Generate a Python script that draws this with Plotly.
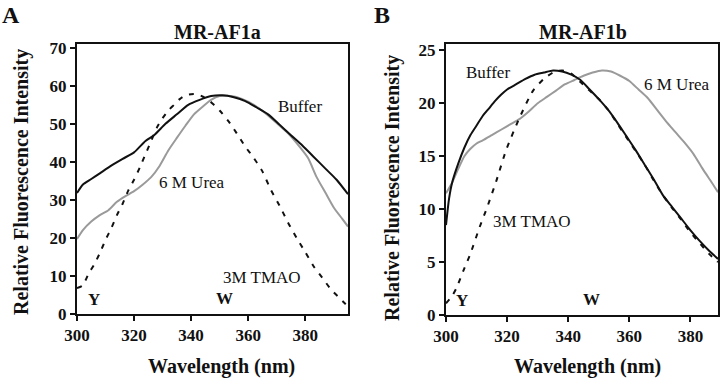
import plotly.graph_objects as go

# ---------------- Panel A: MR-AF1a ----------------
a_buf_x = [300, 302, 305, 308, 312, 316, 320, 324, 327, 331, 335, 339, 343, 347, 351, 355, 359, 363, 367, 371, 375, 379, 383, 387, 391, 395]
a_buf_y = [31.8, 34, 35.5, 37, 39, 40.8, 42.5, 45.5, 47, 50, 52.5, 55, 56.3, 57.3, 57.5, 57, 56, 54.3, 52.5, 49.8, 47, 44.3, 41.3, 38.3, 35.3, 31.5]

a_urea_x = [300, 302, 305, 308, 311, 314, 317, 320, 323, 326, 329, 332, 335, 338, 341, 344, 347, 350, 354, 358, 362, 366, 370, 374, 378, 381, 384, 387, 390, 393, 395]
a_urea_y = [19.7, 22, 24.3, 26, 27.3, 29.5, 31, 32.3, 34, 36, 39, 43, 46.3, 49.5, 52.5, 54.5, 56.3, 57.3, 57.3, 56.5, 55, 52.8, 50.2, 47.5, 44, 41, 36, 32, 28, 25, 23]

a_tmao_x = [300, 302, 304, 306, 308, 310, 312, 314, 316, 318, 320, 322, 324, 326, 328, 330, 332, 334, 336, 338, 340, 342, 344, 346, 348, 350, 353, 356, 359, 362, 365, 368, 371, 374, 377, 380, 383, 386, 389, 392, 395]
a_tmao_y = [6.8, 7.5, 10.5, 13, 16, 19.5, 22.5, 26, 29, 32.5, 35.3, 38.5, 42, 45.5, 49, 51.5, 53.5, 55, 56.5, 57.5, 57.8, 57.8, 57.2, 56.3, 55, 53.5, 50.8, 47.5, 44, 41, 37.5, 32.6, 28.5, 24, 20, 16.3, 12.5, 9.5, 6.5, 4.2, 2]

# ---------------- Panel B: MR-AF1b ----------------
b_buf_x = [300, 301, 302, 304, 306, 308, 310, 312, 314, 316, 318, 320, 323, 326, 329, 332, 335, 338, 341, 344, 347, 350, 353, 356, 359, 362, 365, 368, 371, 374, 377, 380, 383, 386, 389]
b_buf_y = [8.5, 11, 12.5, 14.3, 15.8, 17, 17.9, 18.8, 19.5, 20.2, 20.8, 21.3, 21.8, 22.3, 22.7, 22.9, 23.1, 23, 22.7, 22.2, 21.3, 20.4, 19.4, 18.2, 16.9, 15.6, 14.2, 12.8, 11.3, 10.2, 9.1, 8, 7, 6.1, 5.3]

b_urea_x = [300, 302, 304, 306, 308, 310, 312, 315, 318, 321, 324, 327, 330, 333, 336, 339, 342, 345, 348, 351, 354, 357, 360, 363, 366, 369, 372, 375, 378, 381, 384, 387, 389]
b_urea_y = [11.5, 12.5, 13.8, 15, 15.7, 16.2, 16.5, 17, 17.5, 18, 18.5, 19.2, 20, 20.6, 21.2, 21.8, 22.2, 22.6, 22.9, 23.1, 23, 22.6, 22.1, 21.3, 20.5, 19.4, 18.3, 17.3, 16.3, 15.2, 13.8, 12.5, 11.6]

b_tmao_x = [300, 302, 303.5, 305.7, 308, 311, 313.5, 316.5, 319.7, 324, 328.5, 332, 335, 338, 341, 344, 347, 350, 353, 356, 359, 362, 365, 368, 371, 374, 377, 380, 383, 386, 389]
b_tmao_y = [1.1, 1.8, 2.6, 4.2, 5.8, 8.3, 10.2, 12.7, 15.6, 18.6, 21.2, 22.3, 22.9, 23.1, 22.8, 22, 21.2, 20.4, 19.4, 18.1, 16.8, 15.5, 14.2, 12.7, 11.3, 10.1, 9, 7.8, 6.8, 5.8, 5]

x_ticks = [300, 320, 340, 360, 380]
a_y_ticks = [0, 10, 20, 30, 40, 50, 60, 70]
b_y_ticks = [0, 5, 10, 15, 20, 25]

SERIF = "Liberation Serif"
W, H = 720, 378

fig = go.Figure()

def add(x, y, color, dash, xa, ya, width=2):
    fig.add_trace(go.Scatter(x=x, y=y, mode="lines", xaxis=xa, yaxis=ya,
                             line=dict(color=color, width=width, dash=dash, shape="spline", smoothing=0.6),
                             showlegend=False, hoverinfo="skip"))

GRAY = "#9a9a9a"
DASH = "5px,7px"
add(a_urea_x, a_urea_y, GRAY, "solid", "x", "y")
add(a_buf_x, a_buf_y, "#111111", "solid", "x", "y")
add(a_tmao_x, a_tmao_y, "#111111", DASH, "x", "y")
add(b_urea_x, b_urea_y, GRAY, "solid", "x2", "y2")
add(b_buf_x, b_buf_y, "#111111", "solid", "x2", "y2")
add(b_tmao_x, b_tmao_y, "#111111", DASH, "x2", "y2")

tickfont = dict(family=SERIF, size=17, color="#111111", weight="bold")
axcommon = dict(showgrid=False, zeroline=False, showline=True, linecolor="#111111", linewidth=2,
                mirror=True, ticks="outside", ticklen=5, tickwidth=2, tickcolor="#111111",
                tickfont=tickfont, automargin=False)

fig.update_layout(
    template="none",
    width=W, height=H, margin=dict(l=0, r=0, t=0, b=0, pad=0),
    paper_bgcolor="white", plot_bgcolor="white",
    xaxis=dict(domain=[77 / W, 348 / W], range=[300, 395], tickvals=x_ticks, anchor="y", **axcommon),
    yaxis=dict(domain=[1 - 314 / H, 1 - 44 / H], range=[0, 71], tickvals=a_y_ticks, anchor="x", **axcommon),
    xaxis2=dict(domain=[446 / W, 718 / W], range=[300, 389], tickvals=x_ticks, anchor="y2", **axcommon),
    yaxis2=dict(domain=[1 - 315 / H, 1 - 44 / H], range=[0, 25.6], tickvals=b_y_ticks, anchor="x2", **axcommon),
)

def pa(text, x, y, size=20, bold=True, angle=0):
    fig.add_annotation(text=text, x=x / W, y=1 - y / H, xref="paper", yref="paper",
                       showarrow=False, textangle=angle, xanchor="center", yanchor="middle",
                       font=dict(family=SERIF, size=size, color="#111111", weight="bold" if bold else "normal"))

def da(text, x, y, xr, yr, size=17, bold=False):
    fig.add_annotation(text=text, x=x, y=y, xref=xr, yref=yr, showarrow=False,
                       xanchor="center", yanchor="middle",
                       font=dict(family=SERIF, size=size, color="#111111", weight="bold" if bold else "normal"))

# Panel letters and titles
pa("A", 11, 15, size=24)
pa("B", 382, 15, size=24)
pa("MR-AF1a", 217, 32, size=20)
pa("MR-AF1b", 583, 32, size=20)
# Axis titles
pa("Relative Fluorescence Intensity", 22, 182, size=20, angle=-90)
pa("Relative Fluorescence Intensity", 392, 188, size=20, angle=-90)
pa("Wavelength (nm)", 221, 366, size=20)
pa("Wavelength (nm)", 587, 366, size=20)

# In-plot labels, panel A
da("Buffer", 378.2, 54.5, "x", "y")
da("6 M Urea", 340.3, 34.5, "x", "y")
da("3M TMAO", 365, 9.7, "x", "y")
da("Y", 306, 3.7, "x", "y", bold=True)
da("W", 351.6, 4, "x", "y", bold=True)
# In-plot labels, panel B
da("Buffer", 313.8, 22.9, "x2", "y2")
da("6 M Urea", 375.7, 21.8, "x2", "y2")
da("3M TMAO", 328.2, 8.8, "x2", "y2")
da("Y", 305.2, 1.4, "x2", "y2", bold=True)
da("W", 347.5, 1.5, "x2", "y2", bold=True)

fig.write_html("out.html", config={"displayModeBar": False},
               post_script="document.body.style.margin='0px';document.body.style.overflow='hidden';")
